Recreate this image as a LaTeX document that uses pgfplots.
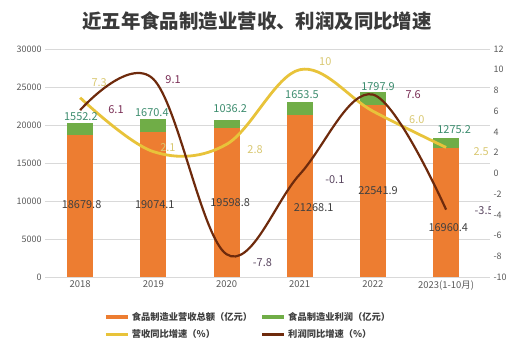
\documentclass[border=0pt]{standalone}
\usepackage{pgfplots}
\pgfplotsset{compat=1.18}
\usepackage{fontspec}
\setmainfont{Noto Sans CJK SC}
\definecolor{barorange}{HTML}{ED7D31}
\definecolor{bargreen}{HTML}{70AD47}
\definecolor{lineyellow}{HTML}{E8C33A}
\definecolor{linebrown}{HTML}{6E2A0C}
\definecolor{tickgray}{HTML}{595959}
\definecolor{titlegray}{HTML}{3A3A3A}
\definecolor{labgray}{HTML}{404040}
\definecolor{labgreen}{HTML}{3C8C6E}
\definecolor{labyellow}{HTML}{D9C872}
\definecolor{labbrown}{HTML}{7A2E55}
\definecolor{labpurple}{HTML}{5A4660}
\pgfplotsset{common/.style={
  scale only axis, width=445bp, height=228bp,
  at={(45bp,84bp)}, anchor=south west,
  xmin=-0.48, xmax=5.6,
  axis line style={draw=none}, major tick length=0pt,
  scaled y ticks=false,
  /pgf/number format/1000 sep={},
  /pgf/number format/assume math mode=true,
  yticklabel style={font=\fontsize{9}{10}\selectfont, text=tickgray},
  xticklabel style={font=\fontsize{9.5}{10}\selectfont, text=tickgray},
},
lineleg/.style={legend image code/.code={\draw[##1] (0bp,0bp) -- (22bp,0bp);}},
}
\tikzset{lab/.style={font=\fontsize{11}{12}\selectfont, text=#1}}
\begin{document}
\begin{tikzpicture}
\path[use as bounding box] (0,0) rectangle (531bp,361bp);
\node[font=\bfseries\fontsize{19.5}{22}\selectfont, text=titlegray] at (257bp,340bp) {近五年食品制造业营收、利润及同比增速};
\begin{axis}[common,
  ybar stacked, bar width=25bp,
  ymin=0, ymax=30000, ytick={0,5000,...,30000},
  xtick={0,...,5}, xticklabels={2018,2019,2020,2021,2022,2023(1-10月)},
  ymajorgrids, grid style={gray!30, line width=0.7bp},
  legend columns=2, legend cell align=left,
  legend style={at={(0.125,-0.135)}, anchor=north west, draw=none, fill=none,
    font=\bfseries\fontsize{9.3}{11}\selectfont, text=labgray, row sep=4bp,
    /tikz/every even column/.append style={column sep=6bp}},
  lineleg,
]
\addplot[fill=barorange, draw=barorange, line width=0pt, forget plot] coordinates {(0,18679.8) (1,19074.1) (2,19598.8) (3,21268.1) (4,22541.9) (5,16960.4)};
\addplot[fill=bargreen, draw=bargreen, line width=0pt, forget plot] coordinates {(0,1552.2) (1,1670.4) (2,1036.2) (3,1653.5) (4,1797.9) (5,1275.2)};
\addlegendimage{barorange, line width=4bp}
\addlegendimage{bargreen, line width=4bp}
\addlegendimage{lineyellow, line width=2.5bp}
\addlegendimage{linebrown, line width=2.5bp}
\legend{食品制造业营收总额（亿元）,食品制造业利润（亿元）,营收同比增速（\%）,利润同比增速（\%）}
\end{axis}
\begin{axis}[common,
  ymin=-10, ymax=12, ytick={-10,-8,...,12},
  axis y line*=right, axis x line=none, xtick=\empty,
]
\addplot[lineyellow, line width=2.8bp, smooth, tension=0.6] coordinates {(0,7.3) (1,2.1) (2,2.8) (3,10) (4,6.0) (5,2.5)};
\addplot[linebrown, line width=2.2bp, smooth, tension=0.6] coordinates {(0,6.1) (1,9.1) (2,-7.8) (3,-0.1) (4,7.6) (5,-3.5)};
% bar value labels (positions converted to the right-hand scale)
\node[lab=labgray] at (axis cs:0.02,-3.053) {18679.8};
\node[lab=labgray] at (axis cs:1.02,-3.053) {19074.1};
\node[lab=labgray] at (axis cs:2.05,-2.859) {19598.8};
\node[lab=labgray] at (axis cs:3.19,-3.342) {21268.1};
\node[lab=labgray] at (axis cs:4.07,-1.702) {22541.9};
\node[lab=labgray] at (axis cs:5.03,-5.272) {16960.4};
\node[lab=labgreen] at (axis cs:0.01,5.439) {1552.2};
\node[lab=labgreen] at (axis cs:0.98,5.825) {1670.4};
\node[lab=labgreen] at (axis cs:2.05,6.210) {1036.2};
\node[lab=labgreen] at (axis cs:3.03,7.561) {1653.5};
\node[lab=labgreen] at (axis cs:4.07,8.333) {1797.9};
\node[lab=labgreen] at (axis cs:5.11,4.184) {1275.2};
% growth labels
\node[lab=labyellow] at (axis cs:0.26,8.72) {7.3};
\node[lab=labyellow] at (axis cs:1.2,2.45) {2.1};
\node[lab=labyellow] at (axis cs:2.39,2.25) {2.8};
\node[lab=labyellow] at (axis cs:3.35,10.75) {10};
\node[lab=labyellow] at (axis cs:4.6,5.15) {6.0};
\node[lab=labyellow] at (axis cs:5.48,2.06) {2.5};
\node[lab=labbrown] at (axis cs:0.49,6.2) {6.1};
\node[lab=labbrown] at (axis cs:1.27,9.0) {9.1};
\node[lab=labbrown] at (axis cs:4.55,7.56) {7.6};
\node[lab=labpurple] at (axis cs:2.49,-8.65) {-7.8};
\node[lab=labpurple] at (axis cs:3.48,-0.64) {-0.1};
\node[lab=labpurple] at (axis cs:5.52,-3.63) {-3.5};
\end{axis}
\end{tikzpicture}
\end{document}
